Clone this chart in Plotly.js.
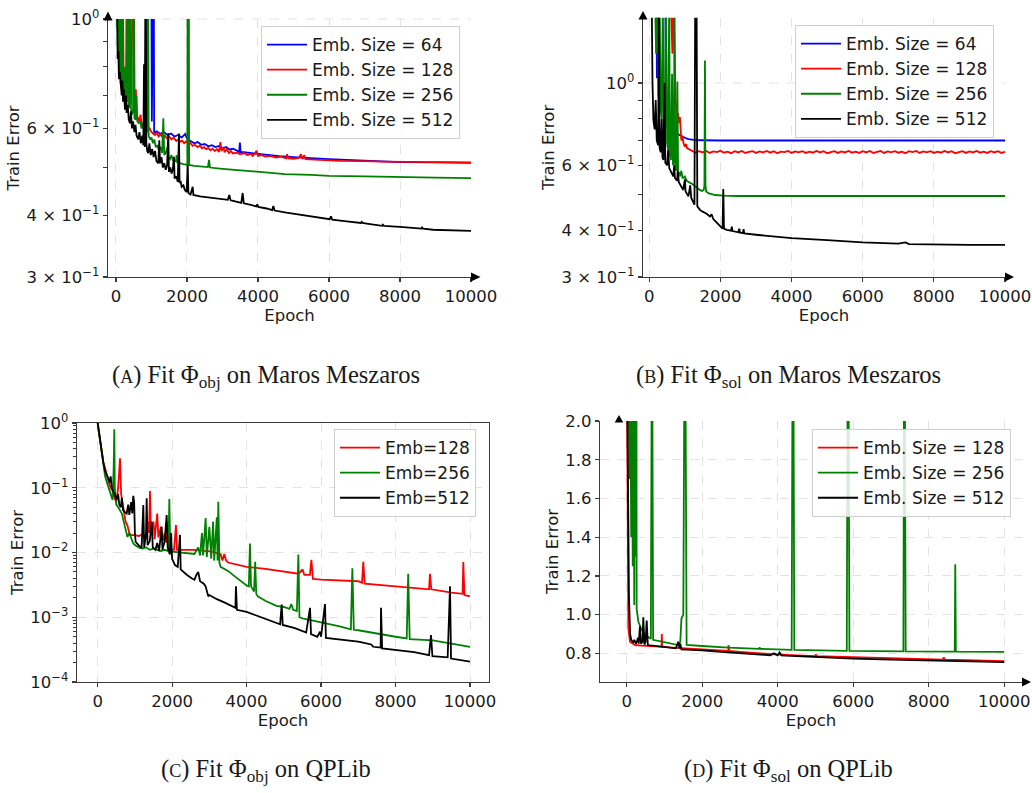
<!DOCTYPE html>
<html>
<head>
<meta charset="utf-8">
<script src="https://cdn.plot.ly/plotly-3.0.1.min.js"></script>
<style>
  html, body { margin: 0; padding: 0; background: #fff; }
  #chart { width: 1032px; height: 793px; }
</style>
</head>
<body>
<div id="chart"></div>
<script>
// ---- (A) Fit Phi_obj on Maros Meszaros: [epoch, train error]
const mmObj64 = [[0,1.6],[990,1.6],[1010,0.62],[1030,1.6],[1060,1.6],[1075,0.588],[1150,0.592],[1250,0.585],[1350,0.59],[1450,0.582],[1550,0.586],[1650,0.578],[1750,0.582],[1850,0.575],[1950,0.585],[2000,0.572],[2100,0.565],[2200,0.56],[2300,0.563],[2400,0.556],[2500,0.558],[2600,0.552],[2700,0.555],[2800,0.55],[2900,0.553],[3000,0.547],[3100,0.55],[3200,0.544],[3300,0.546],[3420,0.54],[3470,0.538],[3490,0.562],[3510,0.538],[3600,0.537],[3800,0.535],[4000,0.532],[4300,0.53],[4600,0.527],[5000,0.525],[5500,0.522],[6000,0.52],[6500,0.518],[7000,0.516],[7500,0.514],[8000,0.513],[9000,0.512],[10000,0.511]];
const mmObj128 = [[0,1.6],[60,1.6],[80,0.76],[100,1.6],[130,0.74],[160,0.72],[180,1.6],[200,1.6],[220,0.70],[250,0.75],[280,0.69],[310,1.6],[340,1.6],[360,0.68],[390,0.70],[420,0.67],[460,1.6],[500,1.6],[520,0.65],[560,0.72],[580,0.64],[620,0.63],[660,0.62],[690,0.64],[720,0.61],[760,0.615],[800,0.60],[850,0.61],[900,0.595],[950,0.60],[1000,0.59],[1050,0.585],[1100,0.582],[1150,0.588],[1200,0.578],[1260,0.584],[1320,0.575],[1380,0.58],[1427,0.573],[1500,0.578],[1560,0.57],[1620,0.575],[1700,0.566],[1760,0.57],[1803,0.564],[1860,0.567],[1920,0.56],[1980,0.565],[2050,0.557],[2100,0.56],[2160,0.553],[2220,0.556],[2300,0.55],[2360,0.554],[2420,0.547],[2480,0.55],[2540,0.545],[2600,0.548],[2660,0.542],[2720,0.546],[2780,0.54],[2840,0.545],[2900,0.538],[2940,0.563],[2970,0.54],[3020,0.55],[3060,0.537],[3120,0.545],[3180,0.535],[3240,0.54],[3290,0.534],[3400,0.536],[3500,0.532],[3600,0.535],[3700,0.53],[3800,0.533],[3850,0.528],[3900,0.532],[3960,0.541],[4000,0.528],[4100,0.53],[4200,0.526],[4350,0.528],[4500,0.524],[4650,0.526],[4790,0.522],[4820,0.532],[4850,0.522],[5000,0.521],[5150,0.523],[5210,0.532],[5250,0.52],[5300,0.53],[5340,0.52],[5500,0.519],[5700,0.518],[6000,0.517],[6300,0.516],[6600,0.515],[7000,0.515],[7500,0.514],[8000,0.514],[8500,0.513],[9000,0.513],[10000,0.512]];
const mmObj256 = [[0,1.6],[30,1.6],[45,0.95],[60,1.6],[75,0.85],[100,1.6],[120,0.78],[150,0.74],[170,1.6],[190,0.72],[220,0.70],[250,0.80],[270,0.69],[300,0.68],[330,1.6],[350,0.67],[380,0.66],[400,1.6],[420,0.66],[450,0.64],[480,0.65],[500,1.6],[520,0.63],[550,0.625],[580,0.70],[600,0.62],[640,0.615],[680,0.62],[720,0.60],[760,0.61],[800,0.59],[850,0.585],[880,0.60],[900,1.6],[920,0.58],[960,0.57],[1000,0.575],[1040,0.56],[1080,0.57],[1120,0.55],[1160,0.555],[1200,0.545],[1250,0.55],[1300,0.535],[1333,0.629],[1360,0.53],[1400,0.535],[1450,0.55],[1470,0.525],[1520,0.52],[1560,0.53],[1600,0.518],[1690,0.515],[1709,0.53],[1730,0.512],[1800,0.51],[1900,0.508],[2010,0.506],[2020,1.6],[2050,1.6],[2060,0.506],[2200,0.504],[2400,0.502],[2590,0.501],[2620,0.518],[2650,0.5],[3000,0.497],[3440,0.494],[4000,0.489],[4760,0.485],[5500,0.483],[6000,0.481],[7000,0.48],[8000,0.478],[9000,0.477],[10000,0.476]];
const mmObj512 = [[0,1.6],[20,1.0],[47,0.83],[70,0.86],[85,0.755],[110,0.78],[130,0.73],[160,0.70],[180,0.75],[200,0.68],[220,0.72],[254,0.655],[280,0.70],[300,0.645],[330,0.67],[360,0.625],[394,0.615],[420,0.65],[450,0.60],[480,0.62],[520,0.59],[550,0.61],[580,0.58],[628,0.57],[660,0.59],[700,0.56],[740,0.58],[770,0.555],[790,0.81],[810,0.55],[836,1.6],[855,0.56],[880,0.54],[910,0.535],[940,0.56],[980,0.53],[1020,0.545],[1060,0.525],[1100,0.54],[1140,0.515],[1192,0.51],[1220,0.568],[1240,0.51],[1280,0.525],[1320,0.50],[1360,0.51],[1400,0.495],[1440,0.505],[1473,0.587],[1490,0.49],[1530,0.50],[1568,0.486],[1600,0.495],[1634,0.526],[1650,0.475],[1700,0.48],[1740,0.468],[1775,0.586],[1790,0.465],[1820,0.47],[1850,0.457],[1900,0.46],[1940,0.45],[1990,0.446],[2020,0.506],[2040,0.444],[2100,0.441],[2160,0.457],[2180,0.44],[2366,0.437],[2600,0.435],[2900,0.432],[3150,0.43],[3192,0.44],[3230,0.429],[3300,0.428],[3530,0.424],[3568,0.444],[3600,0.423],[3800,0.42],[3950,0.417],[3980,0.421],[4010,0.416],[4244,0.413],[4400,0.41],[4432,0.418],[4470,0.409],[4800,0.405],[5183,0.401],[5600,0.397],[6020,0.393],[6056,0.398],[6090,0.392],[6500,0.389],[6900,0.386],[6920,0.388],[6950,0.386],[7061,0.385],[7500,0.381],[7520,0.383],[7550,0.381],[8000,0.379],[8600,0.376],[8620,0.378],[8650,0.376],[8930,0.374],[9400,0.373],[10000,0.372]];

// ---- (B) Fit Phi_sol on Maros Meszaros
const mmSol64 = [[0,2],[200,1.7],[215,1.03],[235,1.7],[450,1.7],[470,0.78],[530,0.751],[600,0.745],[700,0.735],[800,0.728],[900,0.72],[1000,0.712],[1100,0.706],[1200,0.703],[1300,0.702],[1500,0.701],[2000,0.70],[4000,0.70],[6000,0.70],[8000,0.70],[10000,0.70]];
const mmSol128 = [[0,2],[400,1.7],[600,1.7],[650,1.2],[680,1.7],[720,1.0],[740,0.9],[770,0.846],[790,0.80],[810,0.83],[840,0.78],[860,0.81],[880,0.74],[900,0.70],[930,0.72],[960,0.69],[1000,0.673],[1030,0.685],[1060,0.668],[1100,0.665],[1150,0.66],[1200,0.655],[1250,0.653],
  [1300,0.649],[1400,0.655],[1500,0.650],[1600,0.656],[1700,0.648],[1800,0.654],[1900,0.651],[2000,0.657],[2100,0.649],[2200,0.653],[2300,0.647],[2400,0.655],[2500,0.650],[2600,0.656],[2700,0.648],[2800,0.652],[2900,0.655],[3000,0.648],[3100,0.654],[3200,0.650],[3300,0.656],[3400,0.649],[3500,0.655],[3600,0.647],[3700,0.653],[3800,0.651],[3900,0.656],[4000,0.648],[4100,0.654],[4200,0.650],[4300,0.655],[4400,0.648],[4500,0.653],[4600,0.649],[4700,0.656],[4800,0.650],[4900,0.655],[5000,0.647],[5100,0.652],[5200,0.655],[5300,0.648],[5400,0.654],[5500,0.650],[5600,0.656],[5700,0.649],[5800,0.653],[5900,0.648],[6000,0.655],[6100,0.650],[6200,0.656],[6300,0.648],[6400,0.652],[6500,0.656],[6600,0.648],[6700,0.654],[6800,0.650],[6900,0.655],[7000,0.649],[7100,0.653],[7200,0.647],[7300,0.655],[7400,0.651],[7500,0.656],[7600,0.648],[7700,0.654],[7800,0.650],[7900,0.655],[8000,0.648],[8100,0.653],[8200,0.649],[8300,0.656],[8400,0.650],[8500,0.655],[8600,0.647],[8700,0.652],[8800,0.655],[8900,0.648],[9000,0.654],[9100,0.650],[9200,0.656],[9300,0.649],[9400,0.653],[9500,0.648],[9600,0.655],[9700,0.650],[9800,0.655],[9900,0.648],[10000,0.652]];
const mmSol256 = [[0,2],[150,2],[190,1.2],[220,1.7],[260,0.92],[290,1.7],[320,0.85],[350,0.80],[380,1.7],[410,0.74],[440,0.71],[470,1.7],[500,0.69],[530,0.66],[560,1.7],[580,0.64],[610,0.62],[640,1.06],[665,0.60],[690,0.62],[710,1.7],[730,0.59],[760,0.58],[790,1.01],[810,0.57],[840,0.575],[860,0.56],[900,0.58],[940,0.553],[1000,0.56],[1050,0.545],[1100,0.54],[1150,0.538],[1200,0.535],[1250,0.53],[1300,0.526],[1350,0.52],[1420,0.515],[1480,0.512],[1530,0.515],[1550,0.53],[1565,1.15],[1580,0.53],[1600,0.51],[1660,0.505],[1750,0.501],[1850,0.499],[2080,0.497],[2500,0.496],[4000,0.496],[6000,0.496],[8000,0.496],[10000,0.496]];
const mmSol512 = [[0,3],[50,2],[70,1.6],[90,1.0],[115,0.795],[150,0.75],[180,0.9],[210,0.70],[250,0.68],[270,1.6],[290,0.67],[320,0.65],[350,0.80],[370,0.63],[395,0.62],[430,1.0],[450,0.61],[500,0.60],[530,0.66],[560,0.59],[600,0.58],[640,0.57],[675,0.56],[700,0.60],[720,0.555],[780,0.545],[800,0.58],[830,0.54],[900,0.525],[955,0.515],[1000,0.55],[1020,0.51],[1100,0.495],[1150,0.53],[1180,0.49],[1237,0.474],[1270,0.47],[1290,1.6],[1330,1.6],[1350,0.465],[1425,0.455],[1500,0.45],[1600,0.445],[1706,0.437],[1750,0.443],[1800,0.43],[1900,0.42],[1988,0.41],[2060,0.405],[2080,0.518],[2100,0.405],[2175,0.402],[2300,0.400],[2320,0.41],[2340,0.399],[2500,0.396],[2530,0.405],[2550,0.395],[2630,0.394],[2650,0.404],[2670,0.393],[3000,0.39],[3675,0.384],[4000,0.382],[5000,0.377],[6000,0.372],[7000,0.369],[7200,0.372],[7300,0.368],[8000,0.367],[9000,0.366],[10000,0.366]];

// ---- (C) Fit Phi_obj on QPLib
const qpObj128 = [[0,1.0],[50,0.6],[100,0.35],[150,0.25],[200,0.2],[250,0.15],[300,0.12],[350,0.1],[400,0.09],[450,0.07],[500,0.06],[550,0.1],[600,0.285],[630,0.08],[680,0.05],[700,0.04],[750,0.03],[800,0.026],[850,0.02],[900,0.0186],[1000,0.0186],[1100,0.018],[1200,0.019],[1300,0.016],[1350,0.03],[1380,0.02],[1405,0.089],[1430,0.02],[1500,0.03],[1530,0.016],[1600,0.04],[1630,0.017],[1700,0.025],[1750,0.015],[1800,0.02],[1850,0.014],[1900,0.03],[1930,0.012],[1990,0.011],[2050,0.011],[2103,0.0265],[2130,0.011],[2300,0.011],[2500,0.011],[2700,0.011],[2900,0.0105],[3000,0.0105],[3300,0.0095],[3350,0.0075],[3400,0.0095],[3450,0.0075],[3500,0.007],[4000,0.006],[4500,0.0056],[5000,0.0051],[5400,0.0047],[5500,0.0055],[5550,0.0045],[5700,0.0045],[5740,0.0077],[5780,0.0039],[6000,0.0038],[7000,0.0036],[7100,0.0034],[7134,0.0072],[7170,0.0033],[8000,0.003],[8900,0.0027],[8925,0.0047],[8960,0.0027],[9500,0.0024],[9800,0.0023],[9820,0.0071],[9850,0.0022],[10000,0.0021]];
const qpObj256 = [[0,1.0],[50,0.6],[100,0.35],[150,0.22],[200,0.15],[250,0.12],[300,0.1],[350,0.08],[400,0.065],[430,0.2],[447,0.8],[460,0.1],[500,0.055],[550,0.05],[600,0.045],[650,0.04],[700,0.03],[750,0.022],[800,0.0174],[850,0.02],[900,0.016],[950,0.014],[1000,0.013],[1100,0.012],[1200,0.0115],[1300,0.012],[1400,0.011],[1500,0.0115],[1600,0.011],[1700,0.0105],[1800,0.011],[1900,0.0105],[1925,0.067],[1950,0.0105],[2000,0.0103],[2200,0.01],[2500,0.0098],[2600,0.0095],[2700,0.012],[2750,0.009],[2800,0.02],[2830,0.009],[2900,0.034],[2930,0.0085],[3000,0.025],[3050,0.008],[3100,0.03],[3130,0.0075],[3200,0.035],[3220,0.0075],[3240,0.061],[3270,0.007],[3300,0.006],[3500,0.0052],[3700,0.0042],[3900,0.0034],[4000,0.0031],[4060,0.003],[4090,0.0138],[4120,0.003],[4200,0.0025],[4230,0.0072],[4260,0.0023],[4300,0.0021],[4500,0.0018],[4800,0.0015],[5000,0.00144],[5150,0.00135],[5200,0.0016],[5250,0.0013],[5350,0.00125],[5390,0.0093],[5420,0.001],[5500,0.00096],[6000,0.00084],[6300,0.00078],[6500,0.00072],[6800,0.00065],[6840,0.0057],[6880,0.00064],[7000,0.00063],[8000,0.0005],[8300,0.00047],[8340,0.0047],[8380,0.00046],[9000,0.00044],[10000,0.00035]];
const qpObj512 = [[0,1.0],[50,0.6],[107,0.32],[150,0.25],[200,0.18],[250,0.16],[286,0.14],[320,0.12],[350,0.15],[380,0.1],[420,0.09],[465,0.077],[500,0.065],[550,0.08],[580,0.055],[620,0.05],[650,0.07],[680,0.045],[733,0.042],[780,0.04],[820,0.055],[850,0.038],[900,0.06],[930,0.04],[956,0.075],[980,0.06],[1000,0.02],[1020,0.0146],[1100,0.013],[1180,0.0117],[1226,0.054],[1250,0.012],[1300,0.02],[1316,0.069],[1340,0.013],[1400,0.015],[1450,0.03],[1480,0.012],[1550,0.011],[1600,0.014],[1650,0.0105],[1719,0.025],[1740,0.011],[1800,0.015],[1853,0.038],[1880,0.012],[1940,0.0093],[1970,0.02],[2000,0.008],[2076,0.0064],[2150,0.006],[2211,0.0187],[2230,0.0055],[2300,0.005],[2400,0.0045],[2523,0.004],[2600,0.0038],[2650,0.0045],[2700,0.005],[2750,0.0036],[2850,0.0033],[2900,0.003],[2970,0.0021],[3000,0.0022],[3200,0.0019],[3400,0.0017],[3600,0.0015],[3700,0.0014],[3714,0.003],[3740,0.0013],[4000,0.00121],[4500,0.00095],[4900,0.00078],[4942,0.00157],[4970,0.00076],[5300,0.00068],[5600,0.00058],[5703,0.0014],[5730,0.00055],[5900,0.0005],[5971,0.0006],[6000,0.0005],[6105,0.0016],[6130,0.00048],[6500,0.00045],[7000,0.00042],[7350,0.00038],[7400,0.00035],[7600,0.00034],[7610,0.0014],[7640,0.00033],[8000,0.000314],[8500,0.00029],[8900,0.00026],[8953,0.00053],[8990,0.00025],[9400,0.00024],[9463,0.003],[9490,0.00023],[10000,0.000207]];

// ---- (D) Fit Phi_sol on QPLib
const qpSol128 = [[0,2.5],[20,1.5],[44,0.93],[88,0.86],[150,0.85],[220,0.843],[400,0.84],[600,0.837],[925,0.834],[930,0.90],[940,0.834],[1200,0.83],[1500,0.826],[1807,0.823],[2000,0.82],[2690,0.812],[2700,0.83],[2720,0.812],[3000,0.808],[3500,0.80],[3925,0.795],[4500,0.79],[5000,0.786],[5010,0.795],[5030,0.786],[6000,0.78],[7000,0.775],[8000,0.77],[8380,0.768],[8400,0.78],[8420,0.768],[9000,0.765],[10000,0.76]];
const qpSol256 = [[0,2.5],[50,2.1],[80,1.7],[100,2.1],[120,1.4],[140,2.1],[160,1.25],[180,2.1],[200,1.05],[220,2.1],[240,1.3],[260,2.1],[264,1.03],[310,0.963],[400,0.92],[485,0.895],[600,0.88],[640,0.875],[660,2.1],[680,2.1],[700,0.87],[750,0.868],[1000,0.855],[1365,0.843],[1420,0.86],[1450,0.98],[1500,1.0],[1525,2.1],[1560,2.1],[1570,1.25],[1587,0.843],[2000,0.838],[2680,0.83],[2700,0.84],[2720,0.83],[3500,0.823],[3520,0.83],[3540,0.823],[3924,0.82],[4370,0.818],[4390,2.1],[4420,2.1],[4440,0.818],[5000,0.815],[5830,0.813],[5850,2.1],[5880,2.1],[5900,0.813],[7000,0.81],[7330,0.81],[7345,2.1],[7370,2.1],[7390,0.81],[8690,0.809],[8704,1.26],[8720,0.809],[10000,0.808]];
const qpSol512 = [[0,2.5],[30,1.6],[60,1.1],[90,0.9],[120,0.87],[180,0.855],[200,0.87],[250,0.85],[300,0.88],[320,0.85],[350,0.94],[380,0.85],[420,0.86],[440,0.986],[470,0.845],[500,0.86],[530,0.97],[560,0.843],[700,0.84],[1000,0.835],[1300,0.826],[1350,0.85],[1365,0.86],[1400,0.826],[1420,0.85],[1450,0.82],[1800,0.818],[2000,0.815],[2500,0.808],[3000,0.80],[3500,0.795],[3800,0.79],[3900,0.8],[4000,0.79],[4050,0.805],[4100,0.79],[4200,0.788],[5000,0.78],[6000,0.773],[7000,0.768],[8000,0.763],[9000,0.76],[10000,0.755]];

// Tick labels
const epochTicks = [0, 2000, 4000, 6000, 8000, 10000];
const mmErrTicks = [0.3, 0.4, 0.6, 1.0];
const mmErrLabels = ['3 × 10<sup>−1</sup>', '4 × 10<sup>−1</sup>', '6 × 10<sup>−1</sup>', '10<sup>0</sup>'];
const mmErrMinor = [0.5, 0.7, 0.8, 0.9];
const qpObjTicks = [1e-4, 1e-3, 1e-2, 1e-1, 1];
const qpObjLabels = ['10<sup>−4</sup>', '10<sup>−3</sup>', '10<sup>−2</sup>', '10<sup>−1</sup>', '10<sup>0</sup>'];
const qpSolTicks = [0.8, 1.0, 1.2, 1.4, 1.6, 1.8, 2.0];
const qpSolLabels = ['0.8', '1.0', '1.2', '1.4', '1.6', '1.8', '2.0'];

const namesLong = ['Emb. Size = 64', 'Emb. Size = 128', 'Emb. Size = 256', 'Emb. Size = 512'];
const namesShort = ['Emb=128', 'Emb=256', 'Emb=512'];
const colors = { 64: '#0000ff', 128: '#ff0000', 256: '#008000', 512: '#000000' };

// ---- page geometry helpers (pixel -> paper fraction)
const W = 1032, H = 793;
const px = v => v / W;
const py = v => 1 - v / H;

const FONT = 'DejaVu Sans';
const INK = '#1a1a1a';
const SPINE = '#3a3a3a';
const GRID = '#e3e3e3';

function line(pairs, name, color, xa, ya, legend, width) {
  return {
    type: 'scatter', mode: 'lines',
    x: pairs.map(p => p[0]), y: pairs.map(p => p[1]),
    name, xaxis: xa, yaxis: ya, legend,
    line: { color, width: width || 1.8 },
    hoverinfo: 'skip'
  };
}

const traces = [
  line(mmObj64, namesLong[0], colors[64], 'x', 'y', 'legend'),
  line(mmObj128, namesLong[1], colors[128], 'x', 'y', 'legend'),
  line(mmObj256, namesLong[2], colors[256], 'x', 'y', 'legend'),
  line(mmObj512, namesLong[3], colors[512], 'x', 'y', 'legend'),
  line(mmSol64, namesLong[0], colors[64], 'x2', 'y2', 'legend2'),
  line(mmSol128, namesLong[1], colors[128], 'x2', 'y2', 'legend2'),
  line(mmSol256, namesLong[2], colors[256], 'x2', 'y2', 'legend2'),
  line(mmSol512, namesLong[3], colors[512], 'x2', 'y2', 'legend2'),
  line(qpObj128, namesShort[0], colors[128], 'x3', 'y3', 'legend3'),
  line(qpObj256, namesShort[1], colors[256], 'x3', 'y3', 'legend3'),
  line(qpObj512, namesShort[2], colors[512], 'x3', 'y3', 'legend3'),
  line(qpSol128, namesLong[1], colors[128], 'x4', 'y4', 'legend4'),
  line(qpSol256, namesLong[2], colors[256], 'x4', 'y4', 'legend4'),
  line(qpSol512, namesLong[3], colors[512], 'x4', 'y4', 'legend4')
];

const tickFont = { family: FONT, size: 16.5, color: INK };
const titleFont = { family: FONT, size: 16.5, color: INK };

function xAxis(domain, range, anchor, mirror) {
  return {
    domain, range, anchor,
    tickmode: 'array', tickvals: epochTicks, ticktext: epochTicks.map(String),
    ticks: 'outside', ticklen: 4, tickwidth: 1.2, tickcolor: SPINE,
    showline: true, linecolor: SPINE, linewidth: 1.3, mirror: mirror || false,
    showgrid: true, gridcolor: GRID, griddash: 'dash', gridwidth: 1,
    zeroline: false, tickfont: tickFont,
    title: { text: 'Epoch', font: titleFont, standoff: 4 }
  };
}

function yAxis(domain, range, anchor, type, tickvals, ticktext, grid, mirror, minorVals, minorLen) {
  const ax = {
    domain, range, anchor, type,
    tickmode: 'array', tickvals, ticktext,
    ticks: 'outside', ticklen: 4, tickwidth: 1.2, tickcolor: SPINE,
    showline: true, linecolor: SPINE, linewidth: 1.3, mirror: mirror || false,
    showgrid: grid, gridcolor: GRID, griddash: 'dash', gridwidth: 1,
    zeroline: false, tickfont: tickFont,
    title: { text: 'Train Error', font: titleFont, standoff: 2 }
  };
  if (minorVals) {
    ax.minor = { tickmode: 'array', tickvals: minorVals, ticks: 'outside', ticklen: minorLen, tickwidth: 1, tickcolor: SPINE, showgrid: false };
  }
  return ax;
}

// minor ticks between decades on the QPLib objective axis
const qpMinor = [];
for (let d = -4; d < 0; d++) for (let k = 2; k <= 9; k++) qpMinor.push(k * Math.pow(10, d));

const legendBase = {
  xanchor: 'left', yanchor: 'top',
  bgcolor: 'rgba(255,255,255,0.85)', bordercolor: '#cfcfcf', borderwidth: 1,
  font: { family: FONT, size: 17, color: INK },
  itemwidth: 40, tracegroupgap: 0
};

function tri(p1, p2, p3) {
  return {
    type: 'path', xref: 'paper', yref: 'paper',
    path: `M ${px(p1[0])},${py(p1[1])} L ${px(p2[0])},${py(p2[1])} L ${px(p3[0])},${py(p3[1])} Z`,
    fillcolor: '#000', line: { width: 0 }
  };
}

function hGrid(x0, x1, y) {
  return {
    type: 'line', xref: 'paper', yref: 'paper', layer: 'below',
    x0: px(x0), x1: px(x1), y0: py(y), y1: py(y),
    line: { color: GRID, width: 1, dash: 'dash' }
  };
}

const serif = { family: 'Liberation Serif', size: 24.5, color: INK };
function caption(cx, cy, letter, sub, dataset) {
  return {
    xref: 'paper', yref: 'paper', x: px(cx), y: py(cy),
    xanchor: 'center', yanchor: 'middle', showarrow: false,
    text: `(<span style="font-size:18px">${letter}</span>) Fit Φ<sub>${sub}</sub> on ${dataset}`,
    font: serif
  };
}

const layout = {
  width: W, height: H,
  margin: { l: 0, r: 0, t: 0, b: 0 },
  paper_bgcolor: '#fff', plot_bgcolor: 'rgba(0,0,0,0)',
  showlegend: true, hovermode: false,
  font: { family: FONT, color: INK },

  xaxis: xAxis([px(108), px(471)], [-225, 10000], 'y'),
  yaxis: yAxis([py(277), py(19)], [Math.log10(0.3), 0], 'x', 'log', mmErrTicks, mmErrLabels, false, false, mmErrMinor, 3.5),

  xaxis2: xAxis([px(643), px(1005)], [-177, 10000], 'y2'),
  yaxis2: yAxis([py(277), py(17.7)], [Math.log10(0.3), Math.log10(1.5)], 'x2', 'log', mmErrTicks, mmErrLabels, false, false, mmErrMinor, 3.5),

  xaxis3: xAxis([px(77), px(489)], [-555, 10510], 'y3', true),
  yaxis3: yAxis([py(682), py(423)], [-4, 0], 'x3', 'log', qpObjTicks, qpObjLabels, true, true, qpMinor, 2.5),

  xaxis4: xAxis([px(600), px(1022)], [-707, 10472], 'y4'),
  yaxis4: yAxis([py(682), py(421)], [0.652, 2.0], 'x4', 'linear', qpSolTicks, qpSolLabels, true),

  legend: Object.assign({}, legendBase, { x: px(261), y: py(26) }),
  legend2: Object.assign({}, legendBase, { x: px(795), y: py(25) }),
  legend3: Object.assign({}, legendBase, { x: px(334), y: py(429) }),
  legend4: Object.assign({}, legendBase, { x: px(812), y: py(429) }),

  shapes: [
    hGrid(108, 471, 19),
    hGrid(643, 1005, 83),
    // axis arrow heads
    tri([108, 11.5], [103.5, 20.5], [112.5, 20.5]),
    tri([480.5, 277], [471, 272.5], [471, 281.5]),
    tri([643, 11], [638.5, 19.5], [647.5, 19.5]),
    tri([1014, 277], [1005, 272.5], [1005, 281.5]),
    tri([619, 415], [614.7, 422.5], [623.3, 422.5]),
    tri([1031, 682], [1022, 677.5], [1022, 686.5])
  ],

  annotations: [
    caption(266, 376, 'A', 'obj', 'Maros Meszaros'),
    caption(788, 376, 'B', 'sol', 'Maros Meszaros'),
    caption(266, 770, 'C', 'obj', 'QPLib'),
    caption(788, 770, 'D', 'sol', 'QPLib')
  ]
};

Plotly.newPlot('chart', traces, layout, { staticPlot: true, displayModeBar: false });
</script>
</body>
</html>
